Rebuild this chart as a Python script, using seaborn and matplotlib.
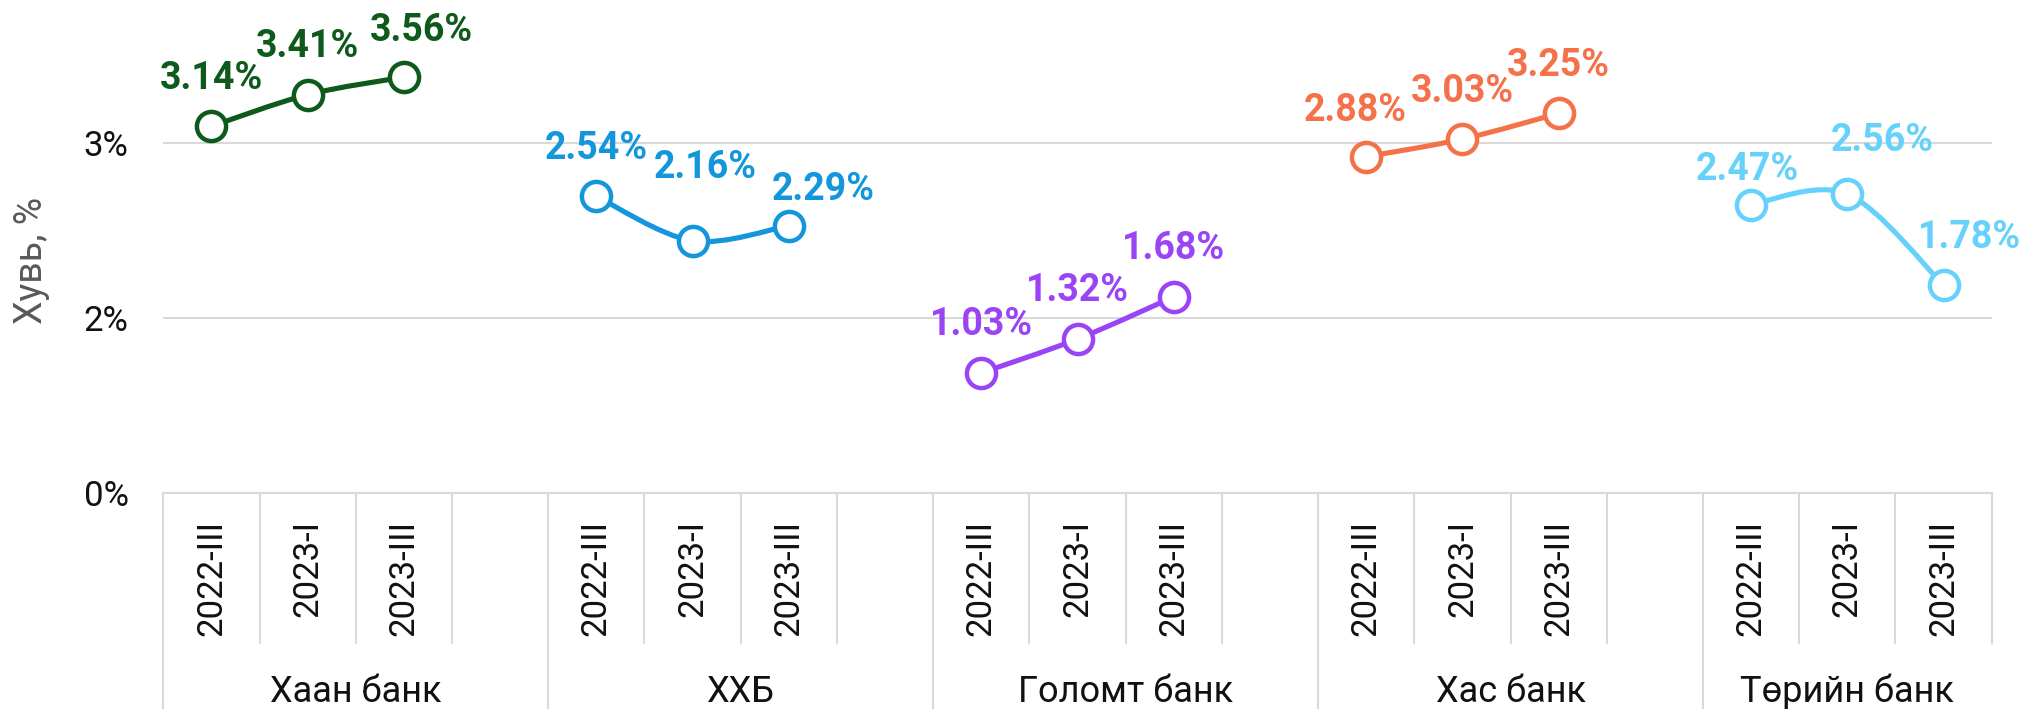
import matplotlib
matplotlib.use("Agg")
import matplotlib.pyplot as plt
from matplotlib.path import Path
from matplotlib.patches import PathPatch
from matplotlib.ticker import FuncFormatter
import numpy as np
import pandas as pd
import seaborn as sns

# өгөгдөл
banks = ["Хаан банк", "ХХБ", "Голомт банк", "Хас банк", "Төрийн банк"]
periods = ["2022-III", "2023-I", "2023-III"]
khaan = [3.14, 3.41, 3.56]
tdb = [2.54, 2.16, 2.29]
golomt = [1.03, 1.32, 1.68]
xac = [2.88, 3.03, 3.25]
turiin = [2.47, 2.56, 1.78]
colors = ["#0E5A1C", "#1396DB", "#9A44F5", "#F4714A", "#66D1FA"]

# label nudges (dx, dy) in pixels, relative to the point
label_nudge = {
    ("Хаан банк", 2): (18, 47),
    ("ХХБ", 1): (13, 73),
    ("ХХБ", 2): (34, 36),
    ("Хас банк", 0): (-11, 46),
    ("Төрийн банк", 0): (-4, 35),
    ("Төрийн банк", 1): (35, 54),
    ("Төрийн банк", 2): (26, 48),
}

values = [khaan, tdb, golomt, xac, turiin]
rows = []
for g, (bank, vals) in enumerate(zip(banks, values)):
    for i, (p, v) in enumerate(zip(periods, vals)):
        rows.append({"bank": bank, "period": p, "pos": 4 * g + i, "idx": i, "value": v})
df = pd.DataFrame(rows)

W, H = 2021, 709
x0, x1, y0 = 163.3, 1991.7, 493.3
px_per_pct = 116.9

sns.set_theme(style="white")
plt.rcParams["font.family"] = ["Roboto", "DejaVu Sans"]

fig = plt.figure(figsize=(W / 100, H / 100), dpi=100)
ax = fig.add_axes([x0 / W, 1 - y0 / H, (x1 - x0) / W, y0 / H])
ax.set_xlim(-0.5, 18.5)
ax.set_ylim(0, y0 / px_per_pct)

grid_c = "#D9D9D9"
ax.set_yticks([0, 1.5, 3.0])
ax.yaxis.set_major_formatter(FuncFormatter(lambda v, _: f"{v:.0f}%"))
ax.yaxis.grid(True, color=grid_c, lw=1.5, zorder=0)
ax.tick_params(axis="y", length=0, pad=25, labelsize=25, labelcolor="#111111")
ax.set_xticks([])
for s in ["left", "right", "top"]:
    ax.spines[s].set_visible(False)
ax.spines["bottom"].set_color(grid_c)
ax.spines["bottom"].set_linewidth(1.5)

for bank, c in zip(banks, colors):
    sub = df[df.bank == bank].sort_values("pos")
    # smoothed line like the spreadsheet's, bezier through the points
    P = sub[["pos", "value"]].to_numpy(dtype=float)
    n = len(P)
    verts = [P[0]]
    for i in range(n - 1):
        prev = P[i - 1] if i > 0 else P[i]
        nxt = P[i + 2] if i + 2 < n else P[i + 1]
        verts += [P[i] + (P[i + 1] - prev) / 6, P[i + 1] - (nxt - P[i]) / 6, P[i + 1]]
    codes = [Path.MOVETO] + [Path.CURVE4] * 3 * (n - 1)
    ax.add_patch(PathPatch(Path(verts, codes), fill=False, edgecolor=c, lw=3.7,
                           capstyle="round", zorder=2))
    sns.lineplot(data=sub, x="pos", y="value", ax=ax, color=c, marker="o",
                 markersize=21, markerfacecolor="white", markeredgecolor=c,
                 markeredgewidth=3.2, linestyle="none", legend=False, zorder=3)
    for _, r in sub.iterrows():
        dx, dy = label_nudge.get((bank, r["idx"]), (0, 48))
        ax.annotate(f"{r['value']:.2f}%", xy=(r["pos"], r["value"]), xytext=(dx, dy),
                    textcoords="offset pixels", ha="center", va="center",
                    fontsize=27, fontweight="bold", color=c, annotation_clip=False)

ax.set_xlabel("")
ax.set_ylabel("")

# multi-level category axis
trans = ax.get_xaxis_transform()
short_bot = (y0 - 643) / y0
long_bot = (y0 - H) / y0
group_edges = {-0.5, 3.5, 7.5, 11.5, 15.5}
for b in np.arange(-0.5, 19, 1.0):
    ybot = long_bot if b in group_edges else short_bot
    ax.plot([b, b], [0, ybot], transform=trans, color=grid_c, lw=1.5, clip_on=False)

for _, r in df.iterrows():
    ax.text(r["pos"], (y0 - 520) / y0, r["period"], transform=trans, rotation=90,
            ha="center", va="top", fontsize=25, color="#111111")

for g, bank in enumerate(banks):
    cx = 4 * g + 1.5 if g < 4 else 17
    ax.text(cx, (y0 - 702) / y0, bank, transform=trans, ha="center", va="baseline",
            fontsize=26, color="#111111")

ax.text((31 - x0) / (x1 - x0), (y0 - 260) / y0, "Хувь, %", transform=ax.transAxes,
        rotation=90, ha="center", va="center", fontsize=27, color="#595959")

fig.savefig("out.png", dpi=100)
